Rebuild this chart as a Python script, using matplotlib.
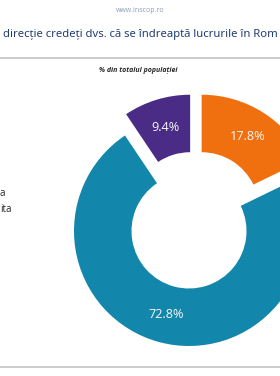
import matplotlib
matplotlib.use('Agg')
import matplotlib.pyplot as plt
from matplotlib.lines import Line2D

# date sondaj INSCOP (imaginea e decupata: legenda si titlul se vad doar partial)
procente = [17.8, 72.8, 9.4]
etichete_legenda = ['a', 'ita']
culori = ['#F0700F', '#1287AB', '#4A2C86']

titlu = 'direcție credeți dvs. că se îndreaptă lucrurile în Rom'
subtitlu = '% din totalul populației'
sursa = 'www.inscop.ro'

W, H = 280, 376
fig = plt.figure(figsize=(W / 100, H / 100), dpi=100)
fig.patch.set_facecolor('white')

# centrul inelului si raza in pixeli
cx, cy, R = 189, 231, 115
L = 1.6
side = 2 * L * R
ax = fig.add_axes([(cx - side / 2) / W, (H - cy - side / 2) / H, side / W, side / H])

wedges, texts, autotexts = ax.pie(
    procente, colors=culori, startangle=90, counterclock=False,
    radius=1.0, wedgeprops=dict(width=0.5, linewidth=0),
    autopct='%.1f%%', pctdistance=0.75,
    textprops=dict(color='#F7F7F7', fontsize=9.2, family='Open Sans'))
ax.set_xlim(-L, L)
ax.set_ylim(-L, L)
ax.set_aspect('equal')
ax.axis('off')

# felii scoase in afara (deplasare in unitati de raza)
deplasari = [(0.11, 0.185), (0.0, 0.0), (0.01, 0.185)]
for w, t, (dx, dy) in zip(wedges, autotexts, deplasari):
    w.set_center((dx, dy))
    x, y = t.get_position()
    t.set_position((x + dx, y + dy))

# texte
fig.text(140 / W, 1 - 10 / H, sursa, ha='center', va='center',
         fontsize=5, color='#8C9DB5', family='Open Sans')
fig.text(3 / W, 1 - 35 / H, titlu, ha='left', va='center',
         fontsize=8.1, color='#213C74', family='Noto Sans')
fig.text(138 / W, 1 - 70 / H, subtitlu, ha='center', va='center',
         fontsize=5, color='#2A2A2A', style='italic', weight='bold', family='Open Sans')

# legenda (taiata in stanga)
fig.text(0 / W, 1 - 193 / H, etichete_legenda[0], ha='left', va='center',
         fontsize=7, color='#222222', family='Open Sans')
fig.text(0 / W, 1 - 209 / H, etichete_legenda[1], ha='left', va='center',
         fontsize=7, color='#222222', family='Open Sans')

# linii gri
for yy in (58, 367):
    fig.add_artist(Line2D([0, 1], [1 - yy / H, 1 - yy / H], transform=fig.transFigure,
                          color='#C4C4C4', linewidth=1.2))

fig.savefig('out.png', dpi=100)
